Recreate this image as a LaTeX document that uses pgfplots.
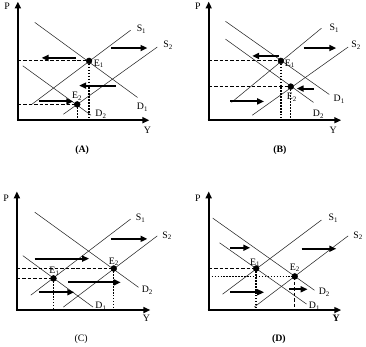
\documentclass[border=0pt]{standalone}
\usepackage{pgfplots}
\pgfplotsset{compat=1.18}
\usetikzlibrary{arrows.meta}
\usepackage{fontspec}
\setmainfont{Liberation Serif}
\begin{document}
\begin{tikzpicture}
\begin{axis}[
  width=366bp, height=354bp, scale only axis,
  xmin=0, xmax=366, ymin=0, ymax=354, y dir=reverse,
  hide axis, clip=false,
  every node/.style={font=\fontsize{9}{10}\selectfont, inner sep=0pt},
  ax/.style={line width=2pt, -{Triangle[length=7pt,width=6pt]}},
  cur/.style={line width=0.55pt, color=black!85},
  arr/.style={line width=1.9pt, -{Triangle[length=7pt,width=6pt]}},
  dsh/.style={line width=1.1pt, dash pattern=on 3.5pt off 2pt},
  dot/.style={line width=1.4pt, dash pattern=on 1.4pt off 1.6pt},
  pt/.style={only marks, mark=*, mark size=3pt, color=black},
]
% ===== Panel A =====
\addplot[ax] coordinates {(16,123)(16,3)};
\addplot[ax] coordinates {(15,123)(149,123)};
\addplot[cur] coordinates {(30,107)(130,32)};
\addplot[cur] coordinates {(62,117)(157,49)};
\addplot[cur] coordinates {(33,24)(137,100)};
\addplot[cur] coordinates {(21,68)(90,118)};
\addplot[dsh] coordinates {(16,63)(88,63)};
\addplot[dsh] coordinates {(16,107)(76,107)};
\addplot[dot] coordinates {(88,63)(88,123)};
\addplot[dot] coordinates {(76,107)(76,123)};
\addplot[arr] coordinates {(110,50)(147,50)};
\addplot[arr] coordinates {(75,60)(40,60)};
\addplot[arr] coordinates {(115,88)(78,88)};
\addplot[arr] coordinates {(37,104)(72,104)};
\addplot[pt] coordinates {(88,63)(76,107)};
\node at (axis cs:5,8) {P};
\node at (axis cs:147,133) {Y};
\node at (axis cs:81,153) {\textbf{(A)}};
\node at (axis cs:141,31) {S\textsubscript{1}};
\node at (axis cs:168,47) {S\textsubscript{2}};
\node at (axis cs:142,110) {D\textsubscript{1}};
\node at (axis cs:100,117) {D\textsubscript{2}};
\node at (axis cs:98,66) {E\textsubscript{1}};
\node at (axis cs:76,99) {E\textsubscript{2}};
% ===== Panel B =====
\addplot[ax] coordinates {(209,123)(209,3)};
\addplot[ax] coordinates {(208,123)(343,123)};
\addplot[cur] coordinates {(232,105)(323,30)};
\addplot[cur] coordinates {(253,118)(350,49)};
\addplot[cur] coordinates {(226,23)(331,97)};
\addplot[cur] coordinates {(226,41)(315,105)};
\addplot[dsh] coordinates {(209,63)(282,63)};
\addplot[dsh] coordinates {(209,89)(292,89)};
\addplot[dot] coordinates {(282,63)(282,123)};
\addplot[dot] coordinates {(292,89)(292,123)};
\addplot[arr] coordinates {(305,50)(338,50)};
\addplot[arr] coordinates {(280,58)(253,58)};
\addplot[arr] coordinates {(315,91)(298,91)};
\addplot[arr] coordinates {(231,104)(265,104)};
\addplot[pt] coordinates {(282,63)(292,89)};
\node at (axis cs:198,8) {P};
\node at (axis cs:335,133) {Y};
\node at (axis cs:281,153) {\textbf{(B)}};
\node at (axis cs:336,30) {S\textsubscript{1}};
\node at (axis cs:358,47) {S\textsubscript{2}};
\node at (axis cs:341,102) {D\textsubscript{1}};
\node at (axis cs:320,117) {D\textsubscript{2}};
\node at (axis cs:291,66) {E\textsubscript{1}};
\node at (axis cs:293,100) {E\textsubscript{2}};
% ===== Panel C =====
\addplot[ax] coordinates {(15,315)(15,195)};
\addplot[ax] coordinates {(14,315)(150,315)};
\addplot[cur] coordinates {(29,300)(130,223)};
\addplot[cur] coordinates {(62,312)(157,240)};
\addplot[cur] coordinates {(21,260)(92,312)};
\addplot[cur] coordinates {(33,216)(138,292)};
\addplot[dsh] coordinates {(15,283)(52,283)};
\addplot[dsh] coordinates {(15,273)(113,273)};
\addplot[dot] coordinates {(52,283)(52,315)};
\addplot[dot] coordinates {(113,273)(113,315)};
\addplot[arr] coordinates {(110,243)(147,243)};
\addplot[arr] coordinates {(33,263)(88,263)};
\addplot[arr] coordinates {(67,287)(120,287)};
\addplot[arr] coordinates {(37,297)(73,297)};
\addplot[pt] coordinates {(52,283)(113,273)};
\node at (axis cs:4,202) {P};
\node at (axis cs:146,323) {Y};
\node at (axis cs:80,344) {(C)};
\node at (axis cs:140,222) {S\textsubscript{1}};
\node at (axis cs:167,240) {S\textsubscript{2}};
\node at (axis cs:100,311) {D\textsubscript{1}};
\node at (axis cs:147,295) {D\textsubscript{2}};
\node at (axis cs:53,276) {E\textsubscript{1}};
\node at (axis cs:113,266) {E\textsubscript{2}};
% ===== Panel D =====
\addplot[ax] coordinates {(209,315)(209,195)};
\addplot[ax] coordinates {(208,315)(343,315)};
\addplot[cur] coordinates {(223,299)(323,224)};
\addplot[cur] coordinates {(255,312)(350,240)};
\addplot[cur] coordinates {(213,222)(316,295)};
\addplot[cur] coordinates {(220,247)(308,309)};
\addplot[dsh] coordinates {(209,273)(257,273)};
\addplot[dot] coordinates {(209,281)(296,281)};
\addplot[dot] coordinates {(257,273)(257,312)};
\addplot[dsh] coordinates {(296,281)(296,315)};
\addplot[arr] coordinates {(303,253)(338,253)};
\addplot[arr] coordinates {(231,252)(251,252)};
\addplot[arr] coordinates {(231,297)(265,297)};
\addplot[arr] coordinates {(290,294)(309,294)};
\addplot[pt] coordinates {(257,273)(296,281)};
\node at (axis cs:198,202) {P};
\node at (axis cs:338,323) {\textbf{Y}};
\node at (axis cs:280,344) {\textbf{(D)}};
\node at (axis cs:335,222) {S\textsubscript{1}};
\node at (axis cs:360,240) {S\textsubscript{2}};
\node at (axis cs:326,297) {D\textsubscript{2}};
\node at (axis cs:316,311) {D\textsubscript{1}};
\node at (axis cs:256,267) {E\textsubscript{1}};
\node at (axis cs:296,272) {E\textsubscript{2}};
\end{axis}
\end{tikzpicture}
\end{document}
